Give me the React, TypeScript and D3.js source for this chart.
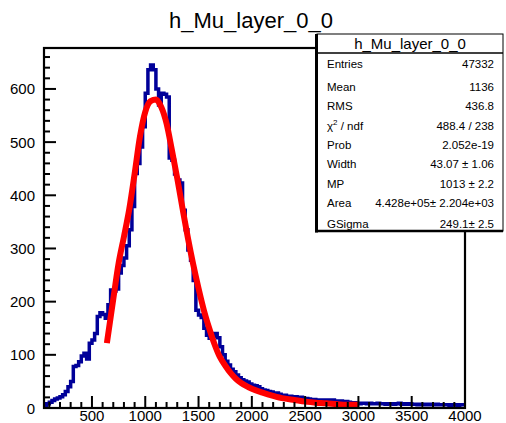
import React from 'react';
import * as d3 from 'd3';

const TITLE = 'h_Mu_layer_0_0';
const BIN_LOW = 50;
const BIN_WIDTH = 25;
const counts = [
  5, 8, 11, 14, 17, 19, 21, 25, 31, 40, 50, 78, 80, 87, 98, 103, 92, 122, 128, 140,
  172, 179, 176, 169, 194, 222, 220, 224, 254, 268, 282, 305, 335, 379, 441, 460, 491, 529, 592, 636,
  645, 636, 600, 570, 592, 590, 585, 470, 466, 440, 429, 423, 372, 335, 297, 278, 240, 184, 175, 170,
  150, 137, 131, 135, 140, 132, 115, 100, 88, 81, 73, 68, 62, 57, 53, 51, 49, 45, 43, 42,
  40, 36, 34, 33, 31, 30, 28, 28, 26, 24, 24, 22, 22, 21, 21, 19, 20, 18, 18, 17,
  16, 16, 15, 15, 14, 15, 15, 14, 15, 13, 12, 13, 12, 12, 11, 10, 10, 9, 8, 9,
  9, 8, 9, 8, 8, 9, 8, 8, 7, 8, 8, 7, 8, 9, 7, 8, 7, 8, 7, 7,
  6, 7, 7, 6, 7, 6, 6, 7, 6, 6, 6, 6, 5, 6, 6, 5, 6, 6,
];
const fitX = [640, 700, 750, 800, 850, 900, 950, 1000, 1050, 1100, 1150, 1200, 1250, 1300, 1350, 1400, 1450, 1500, 1550, 1600, 1650, 1700, 1750, 1800, 1850, 1900, 1950, 2000, 2100, 2200, 2300, 2400, 2500, 2600, 2700, 2800, 2900, 3000];
const fitY = [122, 205, 272, 322, 374, 440, 510, 557, 577, 580, 566, 535, 485, 432, 375, 320, 270, 225, 184, 150, 120, 96, 80, 66, 55, 47, 41, 36, 29, 23, 18, 15, 12, 10, 9, 7, 6, 6];
const xMajorTicks = [500, 1000, 1500, 2000, 2500, 3000, 3500, 4000];
const yMajorTicks = [0, 100, 200, 300, 400, 500, 600];
const statLabels = ['Entries', 'Mean', 'RMS', 'chi2', 'Prob', 'Width', 'MP', 'Area', 'GSigma'];
const statValues = ['47332', '1136', '436.8', '488.4 / 238', '2.052e-19', '43.07 \u00b1 1.06', '1013 \u00b1 2.2', '4.428e+05\u00b1 2.204e+03', '249.1\u00b1 2.5'];

const FONT = '"Liberation Sans", Arial, Helvetica, sans-serif';

export default function App() {
  const W = 506, H = 423;
  const L = 44, R = 465, T = 48, B = 408;
  const x = d3.scaleLinear().domain([50, 4000]).range([L, R]);
  const y = d3.scaleLinear().domain([0, 677]).range([B, T]);

  const pts: [number, number][] = [[BIN_LOW, 0]];
  counts.forEach((c, i) => pts.push([BIN_LOW + i * BIN_WIDTH, c]));
  pts.push([BIN_LOW + counts.length * BIN_WIDTH, counts[counts.length - 1]]);
  const histPath = d3.line<[number, number]>()
    .x(d => x(d[0]))
    .y(d => y(d[1]))
    .curve(d3.curveStepAfter)(pts) || '';

  const fitPath = d3.line<number>()
    .x((_, i) => x(fitX[i]))
    .y(d => y(d))
    .curve(d3.curveMonotoneX)(fitY) || '';

  const xMinor = d3.range(100, 4001, 100).filter(v => v % 500 !== 0);
  const yMinor = d3.range(20, 677, 20).filter(v => v % 100 !== 0);

  const boxL = 317, boxR = 503, boxT = 34, boxB = 231;
  const rowBase = [67.5, 91, 110, 129.5, 148.5, 168, 187.5, 207, 227.5];

  return (
    <svg width={W} height={H} style={{ position: 'absolute', left: 0, top: 0, background: '#fff' }} fontFamily={FONT}>
      <rect x={0} y={0} width={W} height={H} fill="#fff" />
      <defs>
        <clipPath id="frameClip">
          <rect x={L} y={T} width={R - L} height={B - T} />
        </clipPath>
      </defs>
      <text x={251} y={28} fontSize={22} textAnchor="middle" fill="#000">{TITLE}</text>

      <g clipPath="url(#frameClip)">
        <path d={histPath} fill="none" stroke="#000099" strokeWidth={3.5} />
        <path d={fitPath} fill="none" stroke="#ff0000" strokeWidth={6} />
      </g>

      {/* frame */}
      <rect x={L} y={T} width={R - L} height={B - T} fill="none" stroke="#000" strokeWidth={2.2} />

      {/* x ticks */}
      {xMajorTicks.map(v => (
        <g key={'xm' + v}>
          <line x1={x(v)} x2={x(v)} y1={B} y2={B - 12} stroke="#000" strokeWidth={2} />
          <text x={x(v)} y={421} fontSize={15} textAnchor="middle">{v}</text>
        </g>
      ))}
      {xMinor.map(v => (
        <line key={'xn' + v} x1={x(v)} x2={x(v)} y1={B} y2={B - 6} stroke="#000" strokeWidth={2} />
      ))}
      {/* y ticks */}
      {yMajorTicks.map(v => (
        <g key={'ym' + v}>
          <line x1={L} x2={L + 12} y1={y(v)} y2={y(v)} stroke="#000" strokeWidth={2} />
          <text x={35} y={y(v) + 5.5} fontSize={15} textAnchor="end">{v}</text>
        </g>
      ))}
      {yMinor.map(v => (
        <line key={'yn' + v} x1={L} x2={L + 6} y1={y(v)} y2={y(v)} stroke="#000" strokeWidth={2} />
      ))}

      {/* stats box */}
      <rect x={boxL} y={boxT} width={boxR - boxL} height={boxB - boxT} fill="#fff" stroke="#000" strokeWidth={1} />
      <line x1={boxL - 0.5} x2={boxL - 0.5} y1={boxT} y2={boxB + 1.5} stroke="#000" strokeWidth={3} />
      <line x1={boxL - 2} x2={boxR} y1={boxB} y2={boxB} stroke="#000" strokeWidth={2.5} />
      <line x1={boxL} x2={boxR} y1={53} y2={53} stroke="#000" strokeWidth={1.5} />
      <text x={(boxL + boxR) / 2} y={49} fontSize={15} textAnchor="middle">{TITLE}</text>
      {statLabels.map((lab, i) => (
        <g key={lab} fontSize={11.5}>
          <text x={327} y={rowBase[i]}>
            {lab === 'chi2' ? (
              <>
                <tspan>{'\u03c7'}</tspan>
                <tspan fontSize={8} dy={-5}>2</tspan>
                <tspan dy={5}>{' / ndf'}</tspan>
              </>
            ) : lab}
          </text>
          <text x={494} y={rowBase[i]} textAnchor="end">{statValues[i]}</text>
        </g>
      ))}
    </svg>
  );
}
